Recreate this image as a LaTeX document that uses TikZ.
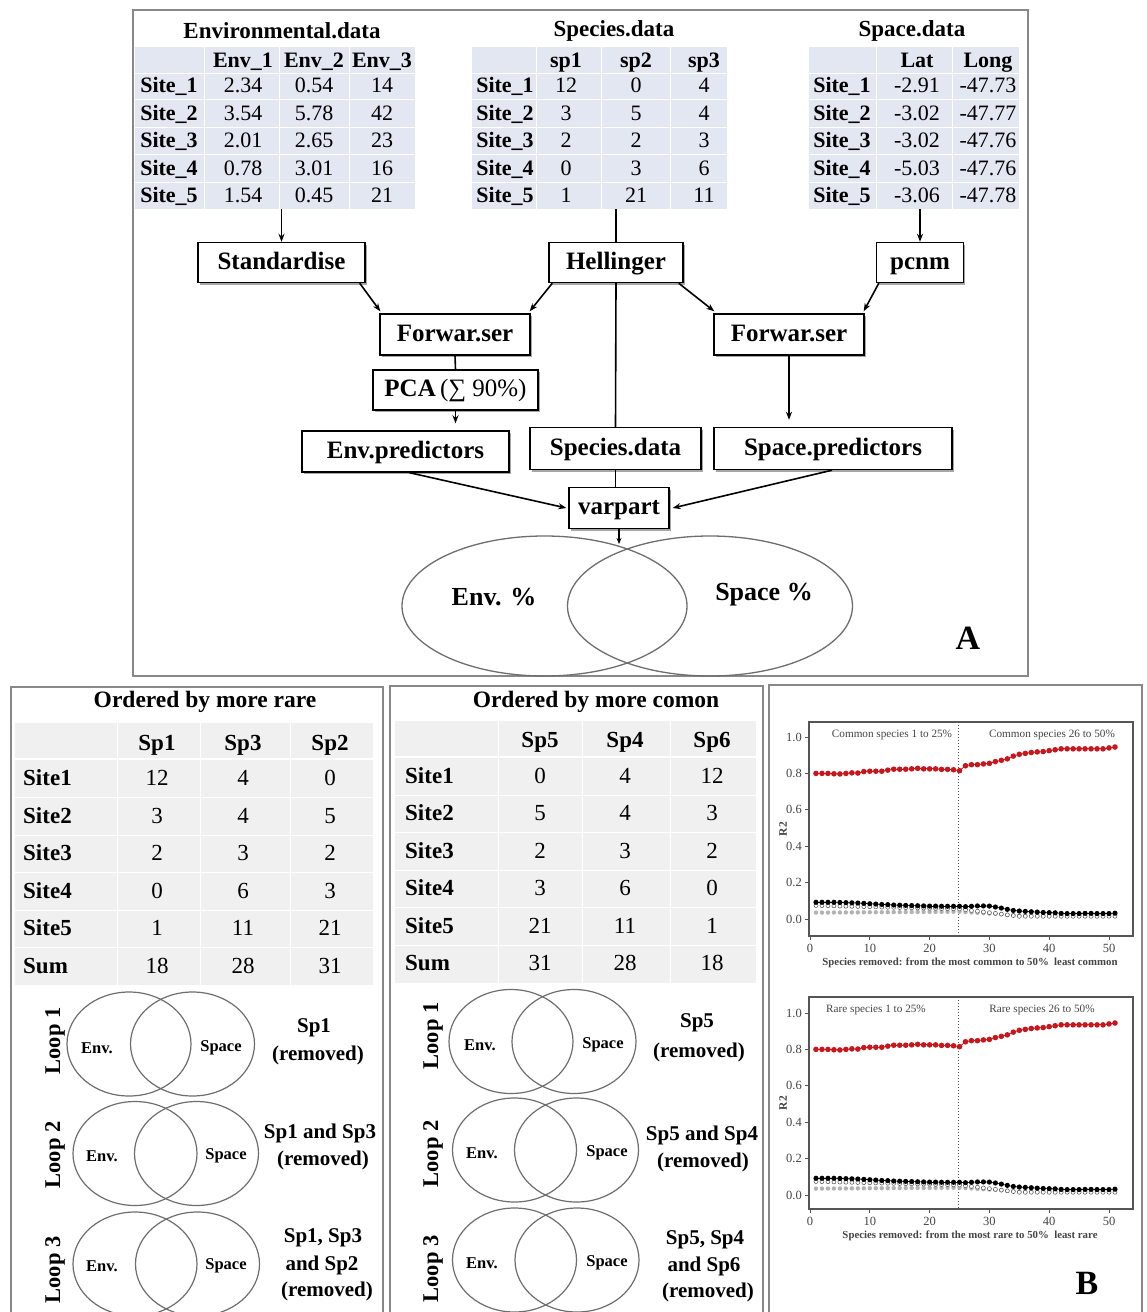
\documentclass[tikz,border=0pt]{standalone}
\usepackage{fontspec}
\setmainfont{Liberation Serif}
\usetikzlibrary{arrows.meta,calc,shapes.geometric,shadows}
\definecolor{tblblue}{HTML}{E3E7F2}
\definecolor{tblgray}{HTML}{F0F0F0}
\definecolor{framegray}{HTML}{888888}
\definecolor{venngray}{HTML}{6E6E6E}
\definecolor{plotred}{HTML}{C8161D}
\definecolor{plottext}{HTML}{444444}
\definecolor{plotframe}{HTML}{555555}
\newcommand\fsz[1]{\fontsize{#1}{#1}\selectfont}
\tikzset{
  panelframe/.style={draw=framegray, line width=2pt},
  flowbox/.style={draw=black, line width=1.4pt, fill=white, inner sep=0pt,
     font=\fsz{25}\bfseries, text height=17pt, text depth=4pt,
     drop shadow={shadow xshift=1.5pt, shadow yshift=-2pt, fill=black!35, opacity=1}},
  arr/.style={line width=1.6pt, -{Stealth[length=8pt,width=6pt]}},
  plainline/.style={line width=1.6pt},
  ttl/.style={font=\fsz{23}\bfseries, inner sep=0pt},
  hcell/.style={font=\fsz{22}\bfseries, inner sep=0pt, text height=15pt, text depth=1pt},
  vcell/.style={font=\fsz{22}, inner sep=0pt, text height=15pt, text depth=1pt},
  bhcell/.style={font=\fsz{23}\bfseries, inner sep=0pt, text height=15.5pt, text depth=1pt},
  bvcell/.style={font=\fsz{23}, inner sep=0pt, text height=15.5pt, text depth=1pt},
  sepline/.style={white, line width=1pt},
  bsepline/.style={white, line width=2pt},
  bigvenn/.style={ellipse, draw=venngray, line width=1.3pt, inner sep=0pt, minimum width=285pt, minimum height=140pt},
  smallvenn/.style={ellipse, draw=venngray, line width=1.2pt, inner sep=0pt, minimum width=124pt, minimum height=104pt},
  vennlbl/.style={font=\fsz{16.5}\bfseries, inner sep=0pt},
  bigvennlbl/.style={font=\fsz{26}\bfseries, inner sep=0pt},
  looplbl/.style={font=\fsz{22.5}\bfseries, rotate=90, inner sep=0pt},
  remlbl/.style={font=\fsz{21}\bfseries, inner sep=0pt},
  paneltag/.style={font=\fsz{34}\bfseries, inner sep=0pt},
  ticklbl/.style={font=\fsz{12.5}, text=plottext, inner sep=0pt},
  annlbl/.style={font=\fsz{11.2}, text=plottext, inner sep=0pt},
  xlbl/.style={font=\fsz{10.8}\bfseries, text=plottext, inner sep=0pt},
}
% #1 zero y, #2 box top, #3 box bottom, #4 left note, #5 right note, #6 x label, #7 left note x, #8 right note x
\newcommand\rplot[8]{%
  \draw[plotframe, line width=1.2pt] (809,#2) rectangle (1133,#3);
  \foreach \t/\lab in {0/0.0,0.2/0.2,0.4/0.4,0.6/0.6,0.8/0.8,1.0/1.0}{
    \draw[plotframe, line width=0.8pt] (809,{#1-182*\t}) -- (805,{#1-182*\t});
    \node[ticklbl, anchor=east] at (802,{#1-182*\t}) {\lab};
  }
  \foreach \k in {0,10,20,30,40,50}{
    \draw[plotframe, line width=0.8pt] ({810+5.98*\k},#3) -- ({810+5.98*\k},{#3+4});
    \node[ticklbl] at ({810+5.98*\k},{#3+12}) {\k};
  }
  \node[xlbl] at (970,{#3+27}) {#6};
  \node[font=\fsz{11.5}\bfseries, text=plottext, rotate=90, inner sep=0pt] at (783,{(#2+#3)/2}) {R2};
  \draw[plotframe, dotted, line width=1pt] (958,#2) -- (958,#3);
  \node[annlbl] at (#7,{#2+13}) {#4};
  \node[annlbl] at (#8,{#2+13}) {#5};
  % grey series
  \foreach \i in {1,...,51}{
    \pgfmathsetmacro\v{\i<26 ? 0.035+0.0002*\i : max(0.02,0.04-0.002*(\i-25))}
    \fill[black!30] ({810+5.98*\i},{#1-182*\v}) circle (2.2);
  }
  % open series
  \foreach \i in {1,...,51}{
    \pgfmathsetmacro\v{\i<26 ? 0.075-0.0008*\i : max(0.015,0.055-0.004*(\i-25))}
    \draw[black!70, fill=white, line width=0.5pt] ({810+5.98*\i},{#1-182*\v}) circle (2);
  }
  % black series
  \foreach \v [count=\i, remember=\v as \pv (initially 0.092)] in {0.092,0.092,0.092,0.092,0.091,0.09,0.089,0.088,0.086,0.084,0.082,0.08,0.079,0.077,0.076,0.075,0.074,0.073,0.072,0.071,0.071,0.07,0.07,0.07,0.07,0.068,0.07,0.072,0.072,0.071,0.066,0.06,0.053,0.047,0.044,0.042,0.04,0.038,0.036,0.035,0.034,0.031,0.03,0.03,0.03,0.031,0.031,0.03,0.03,0.03,0.032}{
    \ifnum\i>1 \draw[black, line width=0.6pt] ({810+5.98*(\i-1)},{#1-182*\pv}) -- ({810+5.98*\i},{#1-182*\v});\fi
    \fill[black] ({810+5.98*\i},{#1-182*\v}) circle (2.6);
  }
  % red series
  \foreach \v [count=\i, remember=\v as \pv (initially 0.8)] in {0.80,0.80,0.80,0.798,0.797,0.80,0.803,0.802,0.81,0.812,0.812,0.812,0.818,0.823,0.823,0.823,0.825,0.828,0.825,0.825,0.825,0.822,0.822,0.82,0.815,0.842,0.848,0.848,0.852,0.855,0.865,0.872,0.88,0.895,0.905,0.91,0.915,0.918,0.92,0.925,0.93,0.935,0.935,0.935,0.935,0.935,0.935,0.935,0.935,0.94,0.945}{
    \ifnum\i>1 \draw[plotred, line width=0.8pt] ({810+5.98*(\i-1)},{#1-182*\pv}) -- ({810+5.98*\i},{#1-182*\v});\fi
    \fill[plotred] ({810+5.98*\i},{#1-182*\v}) circle (2.8);
  }
}
\begin{document}
\begin{tikzpicture}[x=1pt,y=-1pt]
\useasboundingbox (0,0) rectangle (1146,1312);
\fill[white] (0,0) rectangle (1146,1312);

% ---------------- Panel A ----------------
\draw[panelframe] (133,10) rectangle (1028,676);

% Environmental table
\node[fill=tblblue, inner sep=0pt, minimum width=280pt, minimum height=162pt] (envtab) at (275,128) {};
\foreach \yy in {73,99.5,127,154.5,182} \draw[sepline] (135,\yy) -- (415,\yy);
\foreach \xx in {204,279,349} \draw[sepline] (\xx,47) -- (\xx,209);
\node[ttl] (envttl) at (282,31) {Environmental.data};
\foreach \h/\x in {Env\_1/243,Env\_2/314,Env\_3/382} \node[hcell] at (\x,60) {\h};
\foreach \a/\b/\c [count=\i] in {2.34/0.54/14,3.54/5.78/42,2.01/2.65/23,0.78/3.01/16,1.54/0.45/21}{
  \pgfmathsetmacro\yy{85.5+27.5*(\i-1)}
  \node[hcell] at (169,\yy) {Site\_\i};
  \node[vcell] at (243,\yy) {\a};
  \node[vcell] at (314,\yy) {\b};
  \node[vcell] at (382,\yy) {\c};
}

% Species table
\node[fill=tblblue, inner sep=0pt, minimum width=255pt, minimum height=162pt] (sptab) at (599.5,128) {};
\foreach \yy in {73,99.5,127,154.5,182} \draw[sepline] (472,\yy) -- (727,\yy);
\foreach \xx in {536,601,670} \draw[sepline] (\xx,47) -- (\xx,209);
\node[ttl] (spttl) at (614,31) {Species.data};
\foreach \h/\x in {sp1/566,sp2/636,sp3/704} \node[hcell] at (\x,60) {\h};
\foreach \a/\b/\c [count=\i] in {12/0/4,3/5/4,2/2/3,0/3/6,1/21/11}{
  \pgfmathsetmacro\yy{85.5+27.5*(\i-1)}
  \node[hcell] at (505,\yy) {Site\_\i};
  \node[vcell] at (566,\yy) {\a};
  \node[vcell] at (636,\yy) {\b};
  \node[vcell] at (704,\yy) {\c};
}

% Space table
\node[fill=tblblue, inner sep=0pt, minimum width=210pt, minimum height=162pt] (spctab) at (914,128) {};
\foreach \yy in {73,99.5,127,154.5,182} \draw[sepline] (809,\yy) -- (1019,\yy);
\foreach \xx in {876,952} \draw[sepline] (\xx,47) -- (\xx,209);
\node[ttl] (spcttl) at (912,31) {Space.data};
\foreach \h/\x in {Lat/917,Long/988} \node[hcell] at (\x,60) {\h};
\foreach \a/\b [count=\i] in {-2.91/-47.73,-3.02/-47.77,-3.02/-47.76,-5.03/-47.76,-3.06/-47.78}{
  \pgfmathsetmacro\yy{85.5+27.5*(\i-1)}
  \node[hcell] at (842,\yy) {Site\_\i};
  \node[vcell] at (917,\yy) {\a};
  \node[vcell] at (988,\yy) {\b};
}

% Flow boxes
\node[flowbox, minimum width=167pt, minimum height=40pt] (std) at (281.5,262.5) {Standardise};
\node[flowbox, minimum width=134pt, minimum height=40pt] (hel) at (616,262.5) {Hellinger};
\node[flowbox, minimum width=87pt, minimum height=40pt] (pcnm) at (920,262.5) {pcnm};
\node[flowbox, minimum width=150pt, minimum height=41pt] (fwl) at (455,334.5) {Forwar.ser};
\node[flowbox, minimum width=150pt, minimum height=41pt] (fwr) at (789,334.5) {Forwar.ser};
\node[flowbox, minimum width=165pt, minimum height=40pt] (pca) at (455.5,390) {PCA\,\mdseries(∑ 90\%)};
\node[flowbox, minimum width=207pt, minimum height=41pt] (envp) at (405.5,451.5) {Env.predictors};
\node[flowbox, minimum width=171pt, minimum height=42pt] (spd) at (615.5,448.5) {Species.data};
\node[flowbox, minimum width=238pt, minimum height=42pt] (spp) at (833,448.5) {Space.predictors};
\node[flowbox, minimum width=100pt, minimum height=41pt] (var) at (619,508) {varpart};

% Venn A
\node[bigvenn] (vl) at (544.5,606) {};
\node[bigvenn] (vr) at (710,606) {};
\coordinate (vtop) at (619,544);
\node[bigvennlbl] (envpct) at (494,597) {Env. \%};
\node[bigvennlbl] (spcpct) at (764,595) {Space \%};
\node[paneltag] (tagA) at (968,638) {A};

% Connectors
\draw[arr] (envtab.south -| std.north) -- (std.north);
\draw[plainline] (sptab.south -| hel.north) -- (hel.north);
\draw[arr] (spctab.south -| pcnm.north) -- (pcnm.north);
\draw[arr] ($(std.south east)+(-6,0)$) -- ($(fwl.north west)+(1,-2)$);
\draw[arr] ($(hel.south west)+(4,0)$) -- ($(fwl.north east)+(-1,-2)$);
\draw[arr] ($(hel.south east)+(-5,0)$) -- ($(fwr.north west)+(1,-2)$);
\draw[arr] ($(pcnm.south west)+(3,0)$) -- ($(fwr.north east)+(-1,-2)$);
\draw[plainline] (fwl.south) -- (pca.north);
\draw[arr] (pca.south) -- ($(envp.north -| pca.south)+(0,-7)$);
\draw[plainline] (hel.south) -- (spd.north);
\draw[arr] (fwr.south) -- ($(spp.north -| fwr.south)+(0,-7)$);
\draw[arr] ($(envp.south)+(4,0)$) -- ($(var.west)+(-2,0)$);
\draw[plainline] (spd.south) -- (spd.south |- var.north);
\draw[arr] ($(spp.south)+(-1,0)$) -- ($(var.east)+(3,0)$);
\draw[arr, line width=1.2pt, -{Stealth[length=6pt,width=5pt]}] (var.south) -- (vtop);

% ---------------- Bottom panels ----------------
\draw[panelframe] (11,1320) -- (11,687) -- (383,687) -- (383,1320);
\draw[panelframe] (390,1320) -- (390,686) -- (763,686) -- (763,1320);
\draw[panelframe] (769,1320) -- (769,685) -- (1142,685) -- (1142,1320);

% Left table
\node[ttl, font=\fsz{23.5}\bfseries] (rarettl) at (205,702) {Ordered by more rare};
\node[fill=tblgray, inner sep=0pt, minimum width=358pt, minimum height=262pt] (raretab) at (194,854) {};
\draw[bsepline] (15,758.5) -- (373,758.5);
\foreach \yy in {797.5,835,872.5,910,947.5} \draw[sepline] (15,\yy) -- (373,\yy);
\foreach \xx in {117,200,290} \draw[sepline] (\xx,723) -- (\xx,985);
\foreach \h/\x in {Sp1/157,Sp3/243,Sp2/330} \node[bhcell] at (\x,743) {\h};
\foreach \lab/\a/\b/\c [count=\i] in {Site1/12/4/0,Site2/3/4/5,Site3/2/3/2,Site4/0/6/3,Site5/1/11/21,Sum/18/28/31}{
  \pgfmathsetmacro\yy{778.5+37.5*(\i-1)}
  \node[bhcell, anchor=west] at (23,\yy) {\lab};
  \node[bvcell] at (157,\yy) {\a};
  \node[bvcell] at (243,\yy) {\b};
  \node[bvcell] at (330,\yy) {\c};
}

% Middle table
\node[ttl, font=\fsz{23.5}\bfseries] (comttl) at (596,702) {Ordered by more comon};
\node[fill=tblgray, inner sep=0pt, minimum width=361pt, minimum height=262pt] (comtab) at (575.5,852) {};
\draw[bsepline] (395,756.5) -- (756,756.5);
\foreach \yy in {795,832.5,870,907.5,945} \draw[sepline] (395,\yy) -- (756,\yy);
\foreach \xx in {498,582,670} \draw[sepline] (\xx,721) -- (\xx,983);
\foreach \h/\x in {Sp5/540,Sp4/625,Sp6/712} \node[bhcell] at (\x,740) {\h};
\foreach \lab/\a/\b/\c [count=\i] in {Site1/0/4/12,Site2/5/4/3,Site3/2/3/2,Site4/3/6/0,Site5/21/11/1,Sum/31/28/18}{
  \pgfmathsetmacro\yy{776+37.5*(\i-1)}
  \node[bhcell, anchor=west] at (405,\yy) {\lab};
  \node[bvcell] at (540,\yy) {\a};
  \node[bvcell] at (625,\yy) {\b};
  \node[bvcell] at (712,\yy) {\c};
}

% Left loops
\node[looplbl] (lloop1) at (55,1041) {Loop 1};
\node[looplbl] (lloop2) at (55,1155) {Loop 2};
\node[looplbl] (lloop3) at (55,1270) {Loop 3};
\node[smallvenn] (l1a) at (129,1044) {};
\node[smallvenn] (l1b) at (192.5,1044) {};
\node[smallvenn] (l2a) at (135,1153.5) {};
\node[smallvenn] (l2b) at (196.5,1153.5) {};
\node[smallvenn] (l3a) at (135,1264) {};
\node[smallvenn] (l3b) at (197.5,1264) {};
\node[vennlbl] (l1e) at (97,1048) {Env.};
\node[vennlbl] (l1s) at (221,1048) {Space};
\node[vennlbl] (l2e) at (102,1156) {Env.};
\node[vennlbl] (l2s) at (226,1156) {Space};
\node[vennlbl] (l3e) at (102,1266) {Env.};
\node[vennlbl] (l3s) at (226,1266) {Space};
\node[remlbl] (lr1a) at (314,1028) {Sp1};
\node[remlbl] (lr1b) at (318,1055) {(removed)};
\node[remlbl] (lr2a) at (320,1133) {Sp1 and Sp3};
\node[remlbl] (lr2b) at (323,1160) {(removed)};
\node[remlbl] (lr3a) at (323,1238) {Sp1, Sp3};
\node[remlbl] (lr3b) at (322,1265) {and Sp2};
\node[remlbl] (lr3c) at (327,1291) {(removed)};

% Middle loops
\node[looplbl] (mloop1) at (433,1036) {Loop 1};
\node[looplbl] (mloop2) at (433,1154) {Loop 2};
\node[looplbl] (mloop3) at (433,1269) {Loop 3};
\node[smallvenn] (m1a) at (511,1041.5) {};
\node[smallvenn] (m1b) at (574,1041.5) {};
\node[smallvenn] (m2a) at (514.5,1150) {};
\node[smallvenn] (m2b) at (576.5,1150) {};
\node[smallvenn] (m3a) at (514.5,1260) {};
\node[smallvenn] (m3b) at (577,1260) {};
\node[vennlbl] (m1e) at (480,1045) {Env.};
\node[vennlbl] (m1s) at (603,1045) {Space};
\node[vennlbl] (m2e) at (482,1153) {Env.};
\node[vennlbl] (m2s) at (607,1153) {Space};
\node[vennlbl] (m3e) at (482,1263) {Env.};
\node[vennlbl] (m3s) at (607,1263) {Space};
\node[remlbl] (mr1a) at (697,1023) {Sp5};
\node[remlbl] (mr1b) at (699,1052) {(removed)};
\node[remlbl] (mr2a) at (702,1135) {Sp5 and Sp4};
\node[remlbl] (mr2b) at (703,1162) {(removed)};
\node[remlbl] (mr3a) at (705,1240) {Sp5, Sp4};
\node[remlbl] (mr3b) at (704,1266) {and Sp6};
\node[remlbl] (mr3c) at (708,1292) {(removed)};

% Plots
\rplot{919}{722}{936}{Common species 1 to 25\%}{Common species 26 to 50\%}{Species removed: from the most common to 50\%\ \ least common}{892}{1052}
\rplot{1195}{997}{1209}{Rare species 1 to 25\%}{Rare species 26 to 50\%}{Species removed: from the most rare to 50\%\ \ least rare}{876}{1042}
\node[paneltag] (tagB) at (1087,1283) {B};
\end{tikzpicture}
\end{document}
